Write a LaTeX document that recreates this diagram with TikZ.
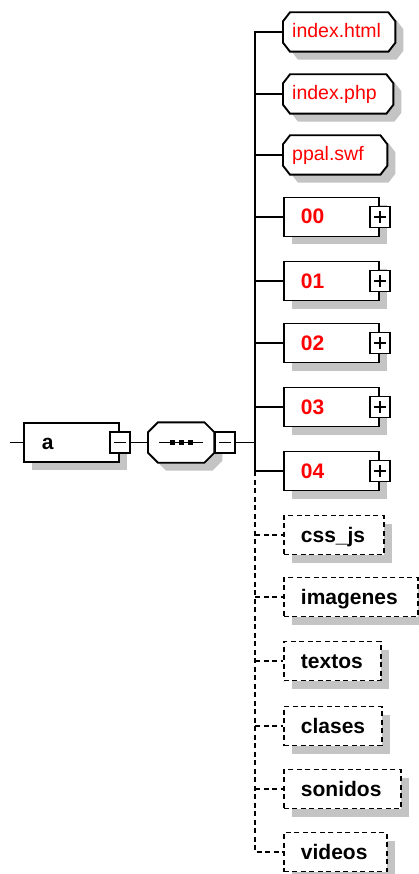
\documentclass[tikz,border=0pt]{standalone}
\usepackage{fontspec}
\setmainfont{Liberation Sans}
\usetikzlibrary{shadows,calc}
\definecolor{shadowc}{HTML}{C4C4C4}
\definecolor{lblred}{HTML}{FF0000}
\pgfdeclarelayer{background}
\pgfsetlayers{background,main}
\newcommand\octpath[3]{([xshift=#2]#1.north west) -- ([xshift=-#2]#1.north east) -- ([yshift=-#3]#1.north east) -- ([yshift=#3]#1.south east) -- ([xshift=-#2]#1.south east) -- ([xshift=#2]#1.south west) -- ([yshift=#3]#1.south west) -- ([yshift=-#3]#1.north west) -- cycle}
\begin{document}
\begin{tikzpicture}[x=1pt,y=-1pt,
  conn/.style={line width=1.9pt},
  dconn/.style={line width=1.9pt, dash pattern=on 5pt off 3.5pt},
  octline/.style={draw=black, fill=white, line width=1.9pt},
  elem/.style={draw, line width=1.9pt, fill=white, minimum height=39pt, inner ysep=0pt, anchor=west, align=left,
    font=\fontsize{21}{21}\selectfont\bfseries, text height=16pt, text depth=2pt,
    general shadow={fill=shadowc, shadow xshift=8pt, shadow yshift=-8pt}},
  req/.style={elem, inner xsep=17pt, text=lblred},
  opt/.style={elem, inner xsep=17pt, dash pattern=on 5pt off 3.5pt},
  octelem/.style={draw=none, minimum height=39pt, inner ysep=0pt, inner xsep=9pt, anchor=west,
    align=left, text=lblred, font=\fontsize{19.5}{19.5}\selectfont, text height=14pt, text depth=2pt},
  expbox/.style={draw, fill=white, minimum width=20pt, minimum height=21pt, inner sep=0pt, line width=1.6pt},
  minusbox/.style={expbox, path picture={\draw[line width=1.6pt]
      ($(path picture bounding box.center)+(-6,0)$) -- ($(path picture bounding box.center)+(6,0)$);}},
  plusbox/.style={expbox, path picture={\draw[line width=1.6pt]
      ($(path picture bounding box.center)+(-6,0)$) -- ($(path picture bounding box.center)+(6,0)$)
      ($(path picture bounding box.center)+(0,-6)$) -- ($(path picture bounding box.center)+(0,6)$);}},
  seqbox/.style={draw=none, minimum width=66pt, minimum height=40pt, inner sep=0pt, anchor=west}
]
\useasboundingbox (0,0) rectangle (419,874);

% root element
\coordinate (stub) at (10,442.5);
\node[elem, inner xsep=18pt, text width=59pt] (a) at (23,442.5) {a};
\node[minusbox] (am) at (a.east) {};
\draw[conn] (stub) -- (a.west);

% sequence compositor
\node[seqbox] (seq) at (148,442.5) {};
\node[minusbox, anchor=west] (sm) at (seq.east) {};
\draw[conn] (am.east) -- (seq.west);
\draw[conn] ($(seq.center)+(-22,0)$) -- ($(seq.center)+(22,0)$);
\foreach \dx in {-9,0,9} \fill ($(seq.center)+(\dx-2.7,-2.7)$) rectangle ($(seq.center)+(\dx+2.7,2.7)$);

% children
\node[octelem, text width=94pt] (c1) at (283,32) {index.html};
\node[octelem, text width=92pt] (c2) at (283,94) {index.php};
\node[octelem, text width=86pt] (c3) at (283,155) {ppal.swf};
\foreach \n/\y/\t in {4/217/00,5/281/01,6/343/02,7/407/03,8/471/04}{
  \node[req, text width=61pt] (c\n) at (283,\y) {\t};
  \node[plusbox] (p\n) at (c\n.east) {};
}
\node[opt, text width=66pt] (c9) at (283,535) {css\_js};
\node[opt, text width=100pt] (c10) at (283,597) {imagenes};
\node[opt, text width=63pt] (c11) at (283,661) {textos};
\node[opt, text width=64pt] (c12) at (283,726) {clases};
\node[opt, text width=83pt] (c13) at (283,789) {sonidos};
\node[opt, text width=69pt] (c14) at (283,852) {videos};

% bus and branches
\coordinate (bus) at (255,442.5);
\draw[conn] (sm.east) -- (bus);
\draw[conn] (c1.west) -- (bus |- c1.west) -- (bus |- c8.west) -- (c8.west);
\foreach \i in {2,...,7} \draw[conn] (bus |- c\i.west) -- (c\i.west);
\draw[dconn] (bus |- c8.west) -- (bus |- c14.west) -- (c14.west);
\foreach \i in {9,...,13} \draw[dconn] (bus |- c\i.west) -- (c\i.west);

% octagon outlines behind text
\begin{pgfonlayer}{background}
\fill[white] (0,0) rectangle (419,874);
\foreach \o in {c1,c2,c3}{
  \fill[shadowc, transform canvas={xshift=8pt,yshift=-8pt}] \octpath{\o}{7pt}{9pt};
  \path[octline] \octpath{\o}{7pt}{9pt};
}
\fill[shadowc, transform canvas={xshift=8pt,yshift=-8pt}] \octpath{seq}{10pt}{10pt};
\path[octline] \octpath{seq}{10pt}{10pt};
\end{pgfonlayer}
\end{tikzpicture}
\end{document}
